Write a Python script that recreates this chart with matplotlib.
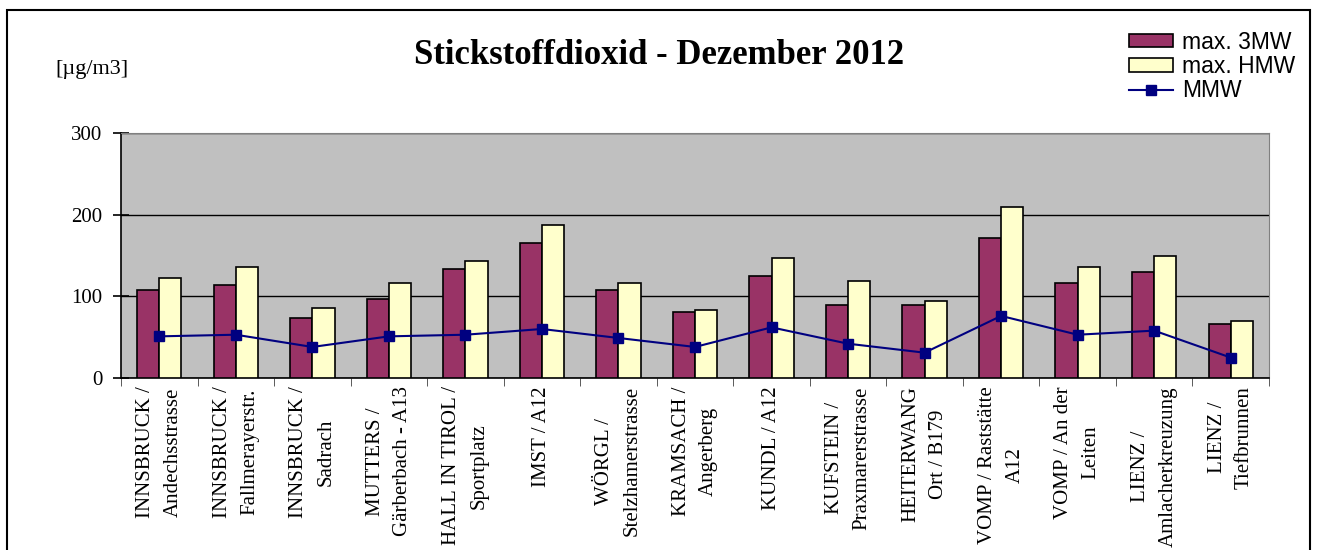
import matplotlib.pyplot as plt
import numpy as np
from matplotlib.patches import Rectangle

# Stationen und Messwerte NO2, Dezember 2012 [µg/m3]
stations = [
    'INNSBRUCK /\nAndechsstrasse',
    'INNSBRUCK /\nFallmerayerstr.',
    'INNSBRUCK /\nSadrach',
    'MUTTERS /\nGärberbach - A13',
    'HALL IN TIROL /\nSportplatz',
    'IMST / A12',
    'WÖRGL /\nStelzhamerstrasse',
    'KRAMSACH /\nAngerberg',
    'KUNDL / A12',
    'KUFSTEIN /\nPraxmarerstrasse',
    'HEITERWANG\nOrt / B179',
    'VOMP / Raststätte\nA12',
    'VOMP / An der\nLeiten',
    'LIENZ /\nAmlacherkreuzung',
    'LIENZ /\nTiefbrunnen',
]
max_3mw = [108, 114, 73, 97, 134, 165, 108, 81, 125, 90, 90, 171, 116, 130, 66]
max_hmw = [123, 136, 86, 116, 143, 187, 116, 83, 147, 119, 94, 209, 136, 149, 70]
mmw = [51, 53, 38, 51, 53, 60, 49, 38, 62, 42, 31, 76, 53, 58, 25]

serif = 'Liberation Serif'
sans = 'Liberation Sans'

fig = plt.figure(figsize=(13.18, 5.5), dpi=100)
ax = fig.add_axes([121 / 1318, 1 - 378 / 550, 1148 / 1318, 245 / 550])
ax.set_facecolor('#C0C0C0')

x = np.arange(len(stations))
w = 0.29
ax.bar(x - w / 2, max_3mw, w, color='#993366', edgecolor='black', linewidth=1.2,
       label='max. 3MW', zorder=3)
ax.bar(x + w / 2, max_hmw, w, color='#FFFFCC', edgecolor='black', linewidth=1.2,
       label='max. HMW', zorder=3)
ax.plot(x, mmw, color='#000080', linewidth=1.5, marker='s', markersize=7,
        label='MMW', zorder=4)

ax.set_xlim(-0.5, len(stations) - 0.5)
ax.set_ylim(0, 300)
ax.set_yticks([0, 100, 200, 300])
ax.yaxis.grid(True, color='black', linewidth=1)
ax.set_axisbelow(True)

ax.set_xticks(x)
ax.set_xticklabels(stations, rotation=90, fontsize=15, family=serif,
                   multialignment='center', linespacing=1.6)
ax.set_xticks(np.arange(-0.5, len(stations)), minor=True)
ax.tick_params(axis='x', which='major', length=0, pad=6)
ax.tick_params(axis='x', which='minor', length=6, direction='out', color='#404040')
ax.tick_params(axis='y', direction='inout', length=11, width=1.2, labelsize=15, pad=8)
for lab in ax.get_yticklabels():
    lab.set_family(serif)

ax.spines['left'].set_linewidth(1.2)
ax.spines['bottom'].set_linewidth(1.2)
ax.spines['top'].set_color('#808080')
ax.spines['right'].set_color('#808080')

fig.text(659 / 1318, 1 - 55 / 550, 'Stickstoffdioxid - Dezember 2012', ha='center',
         va='center', fontsize=25, fontweight='bold', family=serif)
fig.text(55 / 1318, 1 - 70 / 550, '[µg/m3]', ha='left', va='center', fontsize=16,
         family=serif)

handles, labels = ax.get_legend_handles_labels()
order = [labels.index(l) for l in ['max. 3MW', 'max. HMW', 'MMW']]
fig.legend([handles[i] for i in order], [labels[i] for i in order],
           loc='upper left', bbox_to_anchor=(1129 / 1318, 1 - 31 / 550),
           frameon=False, prop={'family': sans, 'size': 16.5}, borderpad=0,
           handlelength=1.9, handleheight=0.5, handletextpad=0.4,
           labelspacing=0.05, borderaxespad=0)

# Rahmen um das Diagramm
fig.add_artist(Rectangle((7 / 1318, -0.2), 1303 / 1318, 1.2 - 10 / 550, fill=False,
                         edgecolor='black', linewidth=1.5, transform=fig.transFigure))

fig.savefig('out.png', dpi=100)
